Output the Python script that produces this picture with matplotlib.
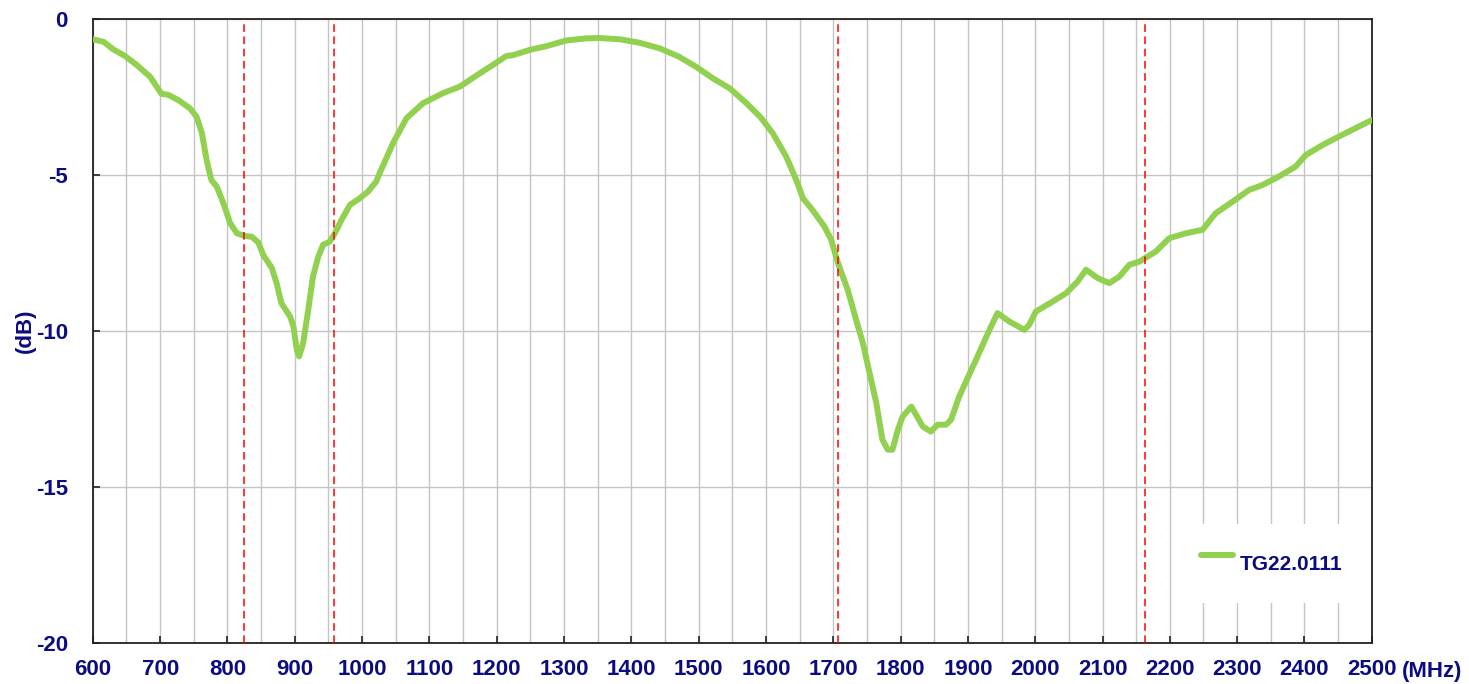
import numpy as np
import matplotlib
matplotlib.use("Agg")
import matplotlib.pyplot as plt
from matplotlib.ticker import MultipleLocator

# return loss of antenna TG22.0111
freq = [600, 616, 630, 648, 665, 685, 702, 712, 727, 744, 754, 762, 769, 776,
        784, 794, 804, 814, 826, 836, 846, 853, 866, 873, 880, 893, 898, 903,
        906.5, 912.5, 920, 927, 935, 942, 952, 959.5, 969.5, 982, 996.6, 1009,
        1021, 1026, 1046, 1066, 1090.6, 1120, 1145, 1175, 1194.5, 1214, 1224,
        1249, 1274, 1303, 1333, 1353, 1383, 1412, 1442, 1471, 1496, 1521, 1546,
        1571, 1592, 1610, 1630, 1645, 1655, 1669, 1687, 1697, 1707, 1721.5,
        1734, 1744, 1754, 1764, 1773, 1781, 1788, 1796, 1803, 1816, 1823, 1833,
        1845, 1855, 1867.5, 1875, 1887, 1912, 1932, 1944, 1961.5, 1984, 1991,
        2001, 2026, 2046, 2063, 2075.5, 2093, 2110, 2125, 2140, 2154.5, 2179,
        2199, 2224, 2248.5, 2268, 2293, 2318, 2338, 2362, 2387, 2402, 2427,
        2451, 2476, 2500]
s11 = [-0.65, -0.73, -0.97, -1.19, -1.47, -1.85, -2.40, -2.43, -2.60, -2.86,
       -3.13, -3.66, -4.52, -5.16, -5.37, -5.91, -6.55, -6.87, -6.96, -6.98,
       -7.17, -7.56, -7.99, -8.47, -9.11, -9.54, -9.86, -10.61, -10.82, -10.39,
       -9.33, -8.26, -7.62, -7.24, -7.14, -6.87, -6.44, -5.96, -5.75, -5.53,
       -5.21, -4.95, -3.98, -3.18, -2.70, -2.38, -2.17, -1.74, -1.47, -1.19,
       -1.16, -0.99, -0.87, -0.69, -0.62, -0.61, -0.65, -0.76, -0.94, -1.21,
       -1.53, -1.90, -2.22, -2.70, -3.15, -3.66, -4.41, -5.16, -5.75, -6.12,
       -6.66, -7.08, -7.83, -8.69, -9.65, -10.39, -11.36, -12.32, -13.49,
       -13.81, -13.81, -13.17, -12.75, -12.43, -12.69, -13.07, -13.23, -13.01,
       -13.01, -12.85, -12.11, -10.93, -9.97, -9.43, -9.70, -9.97, -9.81,
       -9.38, -9.06, -8.79, -8.42, -8.04, -8.31, -8.47, -8.26, -7.88, -7.78,
       -7.46, -7.03, -6.87, -6.76, -6.23, -5.86, -5.48, -5.32, -5.05, -4.73,
       -4.36, -4.04, -3.77, -3.50, -3.24]

band_edges = [825, 958, 1707, 2163]
series_name = "TG22.0111"

navy = "#0c0c80"
green = "#92D050"
plt.rcParams["font.family"] = ["Liberation Sans", "DejaVu Sans"]
plt.rcParams["font.weight"] = "bold"
plt.rcParams["axes.unicode_minus"] = False

fig = plt.figure(figsize=(14.69, 6.84), dpi=100)
ax = fig.add_axes([0.0632, 0.0604, 0.8706, 0.9118])

ax.plot(freq, s11, color=green, lw=4.3, solid_capstyle="round",
        solid_joinstyle="round", label=series_name, zorder=3)
for f in band_edges:
    ax.axvline(f, color="red", lw=1.1, linestyle=(0, (5, 3)), zorder=4)

ax.set_xlim(600, 2500)
ax.set_ylim(-20, 0)
ax.xaxis.set_major_locator(MultipleLocator(100))
ax.xaxis.set_minor_locator(MultipleLocator(50))
ax.yaxis.set_major_locator(MultipleLocator(5))
ax.grid(which="both", axis="x", color="#c4c4c4", lw=1.0, zorder=1)
ax.grid(which="major", axis="y", color="#c4c4c4", lw=1.0, zorder=1)
ax.set_axisbelow(True)

ax.tick_params(axis="x", which="major", direction="in", length=5, width=1.2,
               pad=12, labelsize=16, labelcolor=navy, color="#222222")
ax.tick_params(axis="x", which="minor", length=0)
ax.tick_params(axis="y", direction="in", length=5, width=1.2, pad=18,
               labelsize=16, labelcolor=navy, color="#222222")
for s in ax.spines.values():
    s.set_color("#222222")
    s.set_linewidth(1.3)

fig.text(0.9545, 0.0102, "(MHz)", fontsize=16, color=navy, fontweight="bold",
         ha="left", va="baseline")
fig.text(0.017, 0.517, "(dB)", fontsize=16, color=navy, fontweight="bold",
         rotation=90, ha="center", va="center")

leg = ax.legend(loc="center", bbox_to_anchor=(0.922, 0.127), frameon=True,
                fancybox=False, handlelength=1.5, handletextpad=0.35,
                handleheight=3.0, borderpad=0.8, fontsize=15)
leg.get_frame().set_edgecolor("none")
leg.get_frame().set_facecolor("white")
leg.get_frame().set_alpha(1)
for t in leg.get_texts():
    t.set_color(navy)

fig.savefig("out.png", dpi=100)
